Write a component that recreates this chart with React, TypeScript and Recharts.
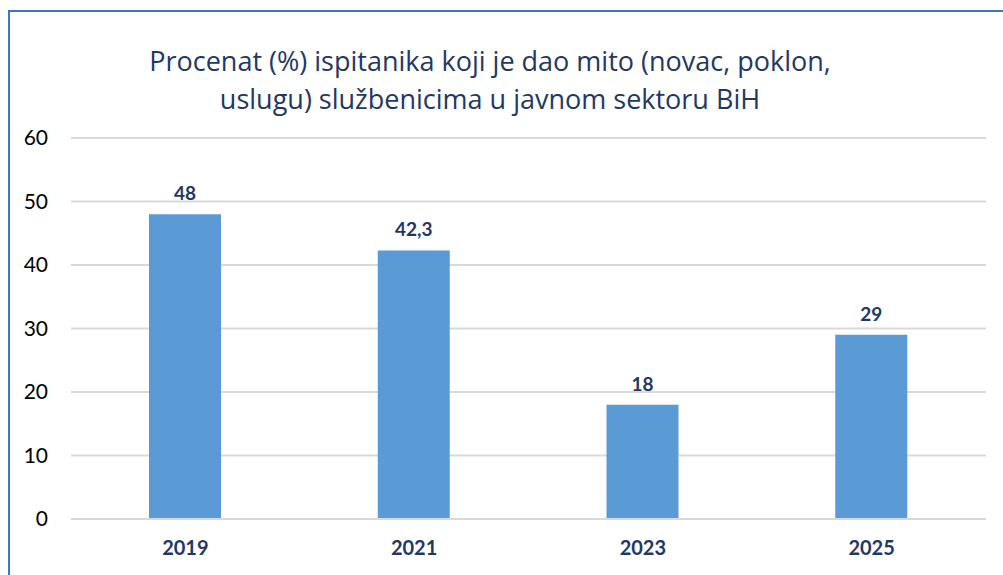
import { BarChart, Bar, XAxis, YAxis, CartesianGrid, LabelList } from 'recharts'

// ── Data ──────────────────────────────────────────────────────────────────────

const YEARS = ['2019', '2021', '2023', '2025']
const PERCENT = [48, 42.3, 18, 29]
const Y_TICKS = [0, 10, 20, 30, 40, 50, 60]

const data = YEARS.map((year, i) => ({ year, value: PERCENT[i] }))

// ── Style tokens ──────────────────────────────────────────────────────────────

const BAR_BLUE = '#5B9BD5'
const NAVY = '#1F3864'
const GRID = '#D9D9D9'
const BORDER = '#4472C4'
const FONT = 'Lato, "Open Sans", sans-serif'
const TITLE_FONT = '"Open Sans", Lato, sans-serif'

const fmtComma = (v: number) => String(v).replace('.', ',')

export default function App() {
  return (
    <div
      style={{
        position: 'fixed',
        top: 0,
        left: 0,
        width: 1003,
        height: 575,
        background: '#fff',
        fontFamily: FONT,
        overflow: 'hidden',
      }}
    >
      <div
        style={{
          position: 'absolute',
          left: 8,
          top: 10,
          width: 1100,
          height: 700,
          borderTop: `2px solid ${BORDER}`,
          borderLeft: `2px solid ${BORDER}`,
        }}
      />
      <div
        style={{
          position: 'absolute',
          left: 90,
          width: 800,
          top: 42,
          textAlign: 'center',
          color: NAVY,
          fontFamily: TITLE_FONT,
          fontSize: 27,
          lineHeight: '38px',
        }}
      >
        Procenat (%) ispitanika koji je dao mito (novac, poklon,
        <br />
        uslugu) službenicima u javnom sektoru BiH
      </div>
      <div style={{ position: 'absolute', left: 0, top: 0 }}>
        <BarChart
          width={1003}
          height={575}
          data={data}
          margin={{ top: 138, right: 17, left: 11, bottom: 26 }}
        >
          <CartesianGrid stroke={GRID} strokeWidth={2} vertical={false} />
          <XAxis
            dataKey="year"
            height={30}
            tickLine={false}
            axisLine={{ stroke: GRID, strokeWidth: 2 }}
            tickSize={0}
            tickMargin={22}
            tick={{ fontSize: 20, fontWeight: 700, fill: NAVY, fontFamily: FONT }}
          />
          <YAxis
            width={60}
            domain={[0, 60]}
            ticks={Y_TICKS}
            tickLine={false}
            axisLine={false}
            tickSize={0}
            tickMargin={23}
            tick={{ fontSize: 21, fill: '#000', fontFamily: FONT }}
          />
          <Bar dataKey="value" fill={BAR_BLUE} barSize={72} isAnimationActive={false}>
            <LabelList
              dataKey="value"
              position="top"
              offset={14}
              formatter={(v: any) => fmtComma(Number(v))}
              style={{ fontSize: 19, fontWeight: 700, fill: NAVY, fontFamily: FONT }}
            />
          </Bar>
        </BarChart>
      </div>
    </div>
  )
}
